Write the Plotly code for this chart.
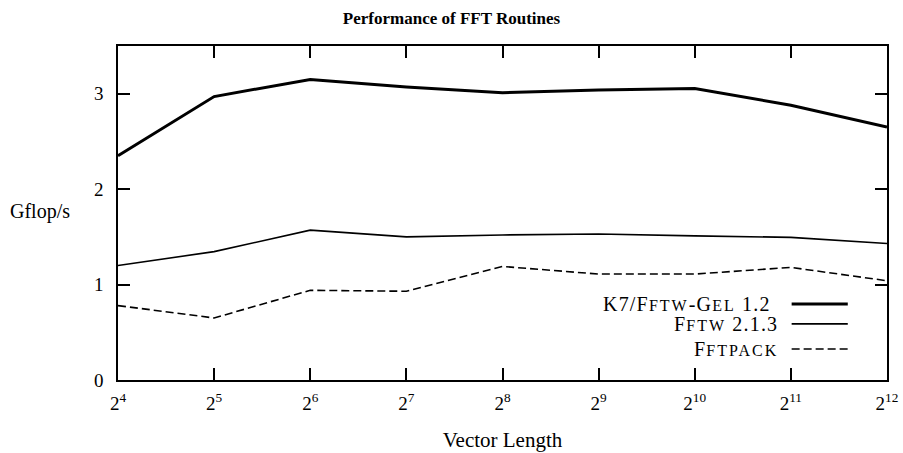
import plotly.graph_objects as go

exponents = [4, 5, 6, 7, 8, 9, 10, 11, 12]
vector_length = [2 ** e for e in exponents]
tick_labels = [f"2<sup>{e}</sup>" for e in exponents]

k7_fftw_gel = [2.35, 2.97, 3.15, 3.07, 3.01, 3.04, 3.055, 2.88, 2.65]
fftw = [1.20, 1.345, 1.57, 1.50, 1.52, 1.53, 1.51, 1.495, 1.43]
fftpack = [0.78, 0.65, 0.94, 0.93, 1.19, 1.11, 1.11, 1.18, 1.04]

sc = "font-size:16px;letter-spacing:2px"
legend_names = [
    f"K7/F<span style='{sc}'>FTW</span>-G<span style='{sc}'>EL</span> 1.2",
    f"F<span style='{sc}'>FTW</span> 2.1.3",
    f"F<span style='{sc}'>FTPACK</span>",
]
series = [k7_fftw_gel, fftw, fftpack]
widths = [3, 1.6, 1.6]
dashes = ["solid", "solid", "8px,4px"]

FONT = "Liberation Serif"
FS = 19

fig = go.Figure()
for name, ys, w, d in zip(legend_names, series, widths, dashes):
    fig.add_trace(go.Scatter(
        x=vector_length, y=ys, mode="lines", name=name,
        line=dict(color="black", width=w, dash=d),
        showlegend=False,
    ))

# manual legend (text left of sample line, as in the reference)
leg_y = [0.2275, 0.168, 0.093]
text_right = [0.852, 0.861, 0.861]
for name, yy, xr, w, d in zip(legend_names, leg_y, text_right, widths, dashes):
    fig.add_annotation(x=xr, y=yy, xref="paper", yref="paper",
                       text=f"<span style='letter-spacing:1.2px'>{name}</span>",
                       showarrow=False, xanchor="right", yanchor="middle",
                       font=dict(family=FONT, size=20, color="black"))
    fig.add_shape(type="line", xref="paper", yref="paper",
                  x0=0.876, x1=0.949, y0=yy, y1=yy,
                  line=dict(color="black", width=w, dash=d))

fig.add_annotation(x=-0.143, y=0.505, xref="paper", yref="paper", text="Gflop/s",
                   showarrow=False, xanchor="left", yanchor="middle",
                   font=dict(family=FONT, size=FS + 1, color="black"))

axis_common = dict(
    showline=True, linecolor="black", linewidth=1.6, mirror="ticks",
    ticks="inside", ticklen=12, tickwidth=1.6, tickcolor="black",
    showgrid=False, zeroline=False, automargin=False,
    tickfont=dict(family=FONT, size=FS, color="black"),
)

fig.update_layout(
    width=903, height=453,
    margin=dict(l=118, r=16, t=46, b=73),
    paper_bgcolor="white", plot_bgcolor="white",
    font=dict(family=FONT, color="black"),
    title=dict(text="<b>Performance of FFT Routines</b>", x=0.5, xanchor="center",
               xref="container", yref="container",
               y=1 - 18 / 453, yanchor="middle",
               font=dict(family=FONT, size=17, color="black")),
    xaxis=dict(type="log", range=[4 * 0.30103, 12 * 0.30103],
               tickvals=vector_length, ticktext=tick_labels,
               ticklabelstandoff=5,
               title=dict(text="Vector Length", standoff=20,
                          font=dict(family=FONT, size=FS + 2, color="black")),
               **axis_common),
    yaxis=dict(range=[0, 3.5], tickvals=[0, 1, 2, 3],
               ticklabelstandoff=9, **axis_common),
)

fig.write_html("out.html", config={"displayModeBar": False},
               post_script="document.body.style.margin='0';")
